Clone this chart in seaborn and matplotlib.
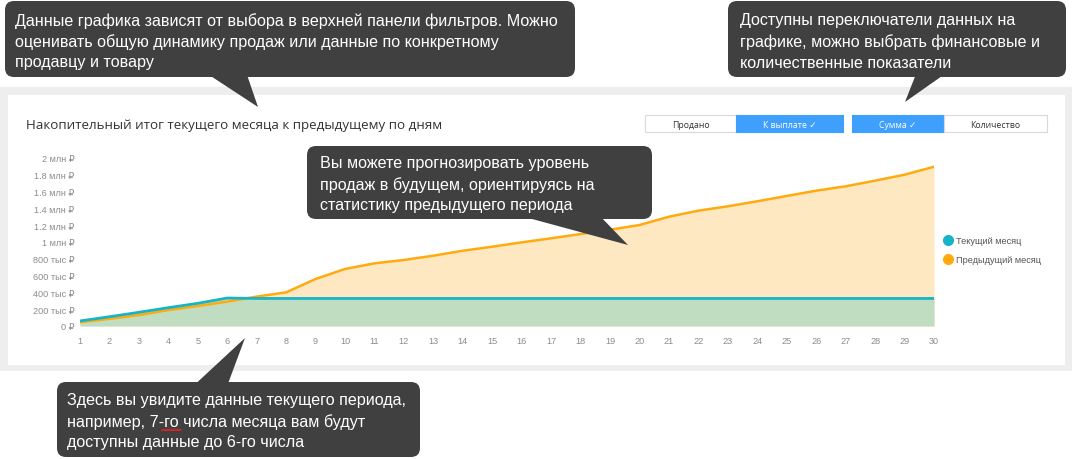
import matplotlib
matplotlib.use("Agg")
import matplotlib.pyplot as plt
from matplotlib.patches import FancyBboxPatch, Rectangle, Polygon
from matplotlib.lines import Line2D
import seaborn as sns
import pandas as pd
import numpy as np

# ---------------- data ----------------
days = list(range(1, 31))
current_month = [60, 110, 163, 218, 270, 333, 328, 328, 328, 328, 328, 328, 328, 328, 328,
                 328, 328, 328, 328, 328, 328, 328, 328, 328, 328, 328, 328, 328, 328, 328]  # тыс ₽
previous_month = [44, 85, 130, 190, 238, 290, 350, 400, 560, 679, 746, 786, 837, 896, 944,
                  996, 1044, 1095, 1146, 1202, 1301, 1373, 1425, 1485, 1548, 1611, 1663, 1730, 1801, 1896]  # тыс ₽
series_names = ["Текущий месяц", "Предыдущий месяц"]
y_ticks = [0, 200, 400, 600, 800, 1000, 1200, 1400, 1600, 1800, 2000]
y_tick_labels = ["0 ₽", "200 тыс ₽", "400 тыс ₽", "600 тыс ₽", "800 тыс ₽", "1 млн ₽",
                 "1.2 млн ₽", "1.4 млн ₽", "1.6 млн ₽", "1.8 млн ₽", "2 млн ₽"]
title = "Накопительный итог текущего месяца к предыдущему по дням"
buttons_left = ["Продано", "К выплате ✓"]
buttons_right = ["Сумма ✓", "Количество"]
callout_texts = [
    "Данные графика зависят от выбора в верхней панели фильтров. Можно\nоценивать общую динамику продаж или данные по конкретному\nпродавцу и товару",
    "Доступны переключатели данных на\nграфике, можно выбрать финансовые и\nколичественные показатели",
    "Вы можете прогнозировать уровень\nпродаж в будущем, ориентируясь на\nстатистику предыдущего периода",
    "Здесь вы увидите данные текущего периода,\nнапример, 7-го числа месяца вам будут\nдоступны данные до 6-го числа",
]

# ---------------- style ----------------
sns.set_theme(style="white")
plt.rcParams["font.family"] = ["Liberation Sans", "DejaVu Sans"]

CYAN = "#16b4c6"
ORANGE = "#ffab10"
ORANGE_FILL = "#fee8c1"
GREEN_FILL = "#c1ddc1"
GRAY_TXT = "#8c8c8c"
DARK = "#404040"
BLUE = "#3f9ffc"

W, H = 1073, 460
fig = plt.figure(figsize=(W / 100, H / 100), dpi=100)

# background overlay (pixel coordinates)
bg = fig.add_axes([0, 0, 1, 1], zorder=0)
bg.set_xlim(0, W)
bg.set_ylim(H, 0)
bg.axis("off")
bg.add_patch(Rectangle((0, 88), 1072, 284, facecolor="#eeeeee", edgecolor="none"))
bg.add_patch(Rectangle((8, 96), 1057, 270, facecolor="white", edgecolor="none"))
bg.text(26, 125, title, fontsize=9.6, color="#333333", va="center", ha="left",
        family=["Open Sans", "DejaVu Sans"])

# toggle buttons
def button(x0, w, label, active):
    fc = BLUE if active else "white"
    ec = BLUE if active else "#d9d9d9"
    tc = "white" if active else "#333333"
    bg.add_patch(Rectangle((x0, 116), w, 17, facecolor=fc, edgecolor=ec, linewidth=0.8))
    bg.text(x0 + w / 2, 125, label, fontsize=6.3, color=tc, ha="center", va="center",
            family=["Open Sans", "DejaVu Sans"])

button(645, 91, buttons_left[0], False)
button(736, 107, buttons_left[1], True)
button(852, 92, buttons_right[0], True)
button(944, 103, buttons_right[1], False)

# ---------------- chart ----------------
x0_px, x1_px = 80, 934
y0_px = 327
px_per_200 = 16.8
ytop = 2100
ax = fig.add_axes([x0_px / W, (H - y0_px) / H, (x1_px - x0_px) / W,
                   (ytop / 200 * px_per_200) / H], zorder=1)
ax.patch.set_alpha(0)

df = pd.DataFrame({
    "day": days * 2,
    "value": current_month + previous_month,
    "series": [series_names[0]] * len(days) + [series_names[1]] * len(days),
})

ax.fill_between(days, previous_month, 0, color=ORANGE_FILL, linewidth=0, zorder=1)
ax.fill_between(days, current_month, 0, color=GREEN_FILL, linewidth=0, zorder=2)
sns.lineplot(data=df[df.series == series_names[1]], x="day", y="value", color=ORANGE,
             linewidth=1.8, ax=ax, zorder=3, legend=False)
sns.lineplot(data=df[df.series == series_names[0]], x="day", y="value", color=CYAN,
             linewidth=2.0, ax=ax, zorder=4, legend=False)

ax.set_xlim(1, 30)
ax.set_ylim(0, ytop)
ax.set_xticks(days)
ax.set_xticklabels([str(d) for d in days])
ax.set_yticks(y_ticks)
ax.set_yticklabels(y_tick_labels)
ax.tick_params(axis="both", length=0, labelsize=6.6, colors=GRAY_TXT)
ax.tick_params(axis="x", pad=7)
ax.tick_params(axis="y", pad=4)
ax.set_xlabel("")
ax.set_ylabel("")
for s in ax.spines.values():
    s.set_visible(False)
ax.grid(False)

handles = [Line2D([], [], marker="o", linestyle="none", markersize=7,
                  markerfacecolor=c, markeredgecolor=c) for c in (CYAN, ORANGE)]
leg = fig.legend(handles, series_names, loc="upper left",
                 bbox_to_anchor=(944 / W, 1 - 237 / H), frameon=False,
                 fontsize=6.6, handletextpad=0.55, labelspacing=1.1,
                 borderaxespad=0, handlelength=0.8, borderpad=0)
for t in leg.get_texts():
    t.set_color("#555555")

# ---------------- callouts overlay ----------------
fg = fig.add_axes([0, 0, 1, 1], zorder=10)
fg.set_xlim(0, W)
fg.set_ylim(H, 0)
fg.axis("off")
fg.patch.set_alpha(0)

box_rects = [(5, 2, 570, 76), (728, 2, 338, 76), (307, 147, 345, 73), (57, 383, 363, 75)]
pointers = [
    [(200, 70), (245, 70), (258, 108)],
    [(918, 70), (952, 70), (905, 103)],
    [(510, 214), (597, 214), (628, 246)],
    [(190, 390), (226, 390), (245, 339)],
]
text_starts = [(15, 21), (740, 21), (320, 164), (67, 401)]
line_gap = 21

for (bx, by, bw, bh), tri, (tx, ty), txt in zip(box_rects, pointers, text_starts, callout_texts):
    fg.add_patch(FancyBboxPatch((bx + 9, by + 9), bw - 18, bh - 18,
                                boxstyle="round,pad=9", facecolor=DARK,
                                edgecolor="none"))
    fg.add_patch(Polygon(tri, closed=True, facecolor=DARK, edgecolor="none"))
    for i, line in enumerate(txt.split("\n")):
        fg.text(tx, ty + i * line_gap, line, color="white", fontsize=11.6,
                ha="left", va="center")

# spell-check underline under "-го"
fg.plot([162, 181], [431, 431], color="#e02020", linewidth=1.3)

fig.savefig("out.png", dpi=100)
